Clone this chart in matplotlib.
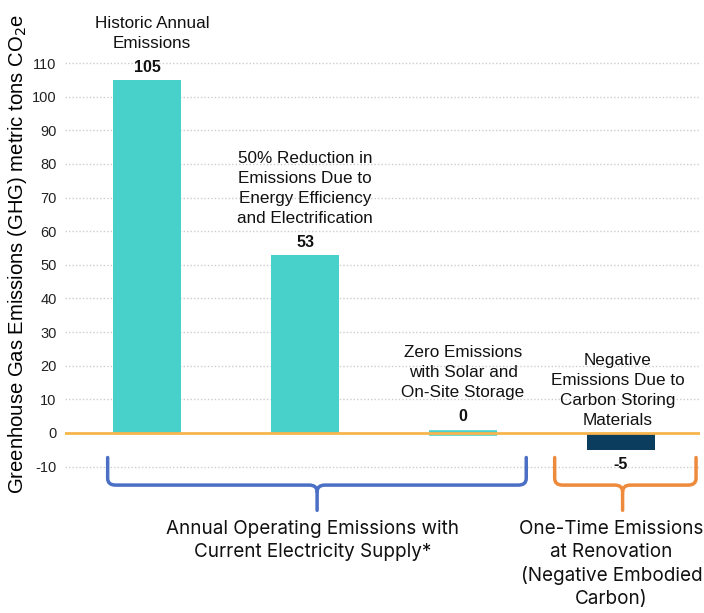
import matplotlib
matplotlib.use("Agg")
import matplotlib.pyplot as plt
import numpy as np
from matplotlib.path import Path
from matplotlib.patches import PathPatch

categories = ["Historic Annual\nEmissions",
              "50% Reduction in\nEmissions Due to\nEnergy Efficiency\nand Electrification",
              "Zero Emissions\nwith Solar and\nOn-Site Storage",
              "Negative\nEmissions Due to\nCarbon Storing\nMaterials"]
values = [105, 53, 0, -5]
value_labels = ["105", "53", "0", "-5"]
yticks = [-10, 0, 10, 20, 30, 40, 50, 60, 70, 80, 90, 100, 110]
group_labels = ["Annual Operating Emissions with\nCurrent Electricity Supply*",
                "One-Time Emissions\nat Renovation\n(Negative Embodied\nCarbon)"]

teal = "#48D0CA"
navy = "#0A3D5E"
bar_colors = [teal, teal, teal, navy]

fig = plt.figure(figsize=(7.04, 6.13), dpi=100)
ax = fig.add_axes([65/704, 1-475/613, 635/704, 425/613])
ax.set_xlim(-0.52, 3.5)
ax.set_ylim(-12.5, 113.9)

ax.set_yticks(yticks)
ax.set_yticklabels([str(t) for t in yticks], fontsize=10.5, family="Liberation Sans", color="#222222")
ax.tick_params(axis="y", length=0, pad=6)
ax.tick_params(axis="x", length=0, labelbottom=False)
for s in ax.spines.values():
    s.set_visible(False)
ax.grid(axis="y", linestyle=(0, (1, 1.5)), color="#cccccc", linewidth=1)
ax.set_axisbelow(True)

x = np.arange(len(values))
bars = ax.bar(x, values, width=0.43, color=bar_colors, zorder=2)
# zero-height bar shown as thin teal line
bars[2].set_edgecolor(teal)
bars[2].set_linewidth(4)

ax.axhline(0, color="#F8B54E", linewidth=2, zorder=3)

# descriptions
desc_y = [113.7, 61.6, 9.9, 1.5]
desc_dx = [0.03, 0.0, 0.0, -0.02]
for i, (c, dy, dx) in enumerate(zip(categories, desc_y, desc_dx)):
    ax.text(i + dx, dy, c, ha="center", va="bottom",
            fontsize=12.3, family="Liberation Sans", color="#111111", linespacing=1.42)

label_off = [9.2, 8.8, 12, -10.8]
for i, (v, lab, off) in enumerate(zip(values, value_labels, label_off)):
    ax.annotate(lab, xy=(i, v), xytext=(0, off), textcoords="offset points",
                ha="center", va="center", fontsize=11.5, fontweight="bold",
                family="Liberation Sans", color="#111111")

ax.set_ylabel("Greenhouse Gas Emissions (GHG) metric tons CO$_2$e",
              fontsize=14.6, family="Liberation Sans")
ax.yaxis.set_label_coords(-0.056, 0.52)


def brace(x0, x1, xc, ytop, ymid, ytip, color):
    r = 0.05
    ry = 2.0
    verts = [(x0, ytop), (x0, ymid + ry), (x0, ymid), (x0 + r, ymid),
             (xc - r, ymid), (xc, ymid), (xc, ymid - ry), (xc, ytip)]
    codes = [Path.MOVETO, Path.LINETO, Path.CURVE3, Path.CURVE3,
             Path.LINETO, Path.CURVE3, Path.CURVE3, Path.LINETO]
    p = PathPatch(Path(verts, codes), fill=False, edgecolor=color, lw=2.5, clip_on=False,
                  capstyle="round", joinstyle="round")
    ax.add_patch(p)
    verts2 = [(x1, ytop), (x1, ymid + ry), (x1, ymid), (x1 - r, ymid),
              (xc + r, ymid), (xc, ymid), (xc, ymid - ry)]
    codes2 = [Path.MOVETO, Path.LINETO, Path.CURVE3, Path.CURVE3,
              Path.LINETO, Path.CURVE3, Path.CURVE3]
    ax.add_patch(PathPatch(Path(verts2, codes2), fill=False, edgecolor=color, lw=2.5,
                           clip_on=False, capstyle="round", joinstyle="round"))


brace(-0.25, 2.40, 1.076, -7.3, -15.5, -23.0, "#4A6FC4")
brace(2.58, 3.475, 3.01, -7.3, -15.5, -23.0, "#EE8A3C")

ax.text(1.05, -25.8, group_labels[0], ha="center", va="top", fontsize=13.6,
        family="Inter", color="#111111", linespacing=1.36)
ax.text(2.94, -25.8, group_labels[1], ha="center", va="top", fontsize=13.6,
        family="Inter", color="#111111", linespacing=1.36)

fig.savefig("out.png", dpi=100)
